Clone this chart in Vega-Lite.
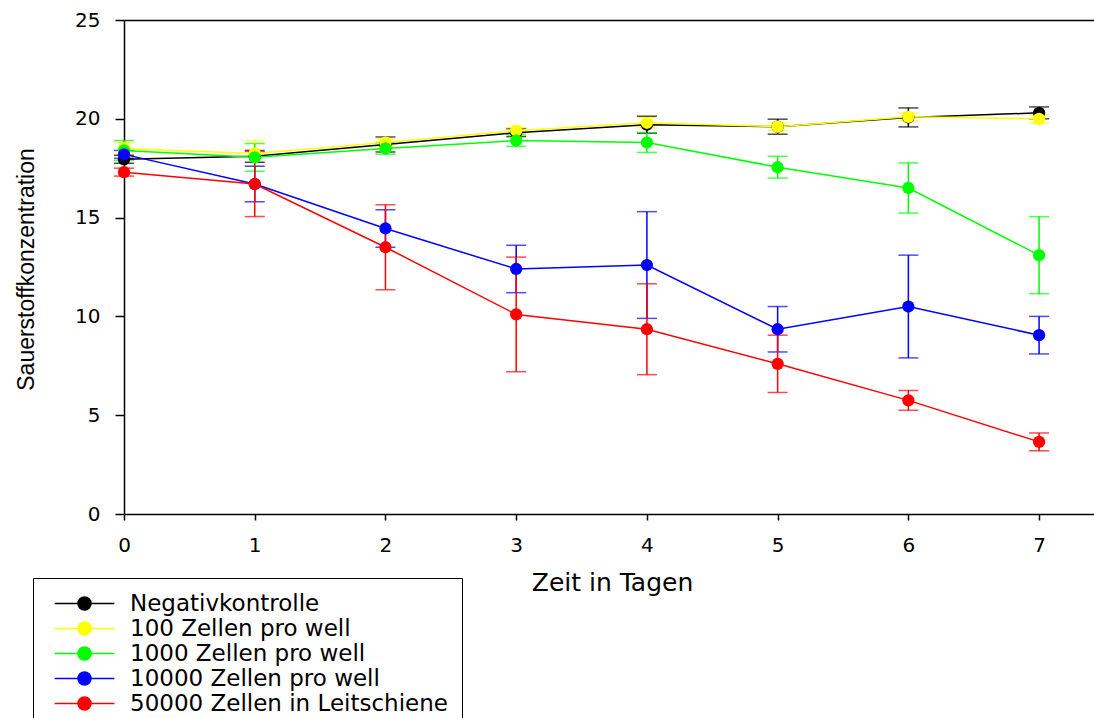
{
  "$schema": "https://vega.github.io/schema/vega-lite/v6.json",
  "width": 970,
  "height": 494,
  "autosize": {"type": "none"},
  "padding": {"left": 124, "top": 20, "right": 0, "bottom": 204},
  "background": "white",
  "config": {
    "view": {"stroke": null},
    "axis": {
      "domainColor": "black",
      "domainWidth": 1.5,
      "tickColor": "black",
      "tickWidth": 1.5,
      "labelColor": "black",
      "titleColor": "black",
      "labelFont": "DejaVu Sans",
      "labelFontSize": 20,
      "labelFontWeight": "normal"
    }
  },
  "data": {
    "values": [
      {"series": "Negativkontrolle", "day": 0, "value": 17.95, "sd": 0.2},
      {"series": "Negativkontrolle", "day": 1, "value": 18.1, "sd": 0.3},
      {"series": "Negativkontrolle", "day": 2, "value": 18.7, "sd": 0.38},
      {"series": "Negativkontrolle", "day": 3, "value": 19.3, "sd": 0.2},
      {"series": "Negativkontrolle", "day": 4, "value": 19.7, "sd": 0.43},
      {"series": "Negativkontrolle", "day": 5, "value": 19.6, "sd": 0.38},
      {"series": "Negativkontrolle", "day": 6, "value": 20.07, "sd": 0.48},
      {"series": "Negativkontrolle", "day": 7, "value": 20.3, "sd": 0.3},
      {"series": "100 Zellen pro well", "day": 0, "value": 18.5, "sd": 0.3},
      {"series": "100 Zellen pro well", "day": 1, "value": 18.25, "sd": 0.65},
      {"series": "100 Zellen pro well", "day": 2, "value": 18.8, "sd": 0.2},
      {"series": "100 Zellen pro well", "day": 3, "value": 19.4, "sd": 0.15},
      {"series": "100 Zellen pro well", "day": 4, "value": 19.8, "sd": 0.25},
      {"series": "100 Zellen pro well", "day": 5, "value": 19.6, "sd": 0.2},
      {"series": "100 Zellen pro well", "day": 6, "value": 20.1, "sd": 0.2},
      {"series": "100 Zellen pro well", "day": 7, "value": 20.0, "sd": 0.2},
      {"series": "1000 Zellen pro well", "day": 0, "value": 18.4, "sd": 0.5},
      {"series": "1000 Zellen pro well", "day": 1, "value": 18.05, "sd": 0.7},
      {"series": "1000 Zellen pro well", "day": 2, "value": 18.5, "sd": 0.3},
      {"series": "1000 Zellen pro well", "day": 3, "value": 18.9, "sd": 0.3},
      {"series": "1000 Zellen pro well", "day": 4, "value": 18.8, "sd": 0.5},
      {"series": "1000 Zellen pro well", "day": 5, "value": 17.55, "sd": 0.55},
      {"series": "1000 Zellen pro well", "day": 6, "value": 16.5, "sd": 1.27},
      {"series": "1000 Zellen pro well", "day": 7, "value": 13.1, "sd": 1.95},
      {"series": "10000 Zellen pro well", "day": 0, "value": 18.2, "sd": 0.2},
      {"series": "10000 Zellen pro well", "day": 1, "value": 16.7, "sd": 0.9},
      {"series": "10000 Zellen pro well", "day": 2, "value": 14.45, "sd": 0.95},
      {"series": "10000 Zellen pro well", "day": 3, "value": 12.4, "sd": 1.2},
      {"series": "10000 Zellen pro well", "day": 4, "value": 12.6, "sd": 2.7},
      {"series": "10000 Zellen pro well", "day": 5, "value": 9.35, "sd": 1.15},
      {"series": "10000 Zellen pro well", "day": 6, "value": 10.5, "sd": 2.6},
      {"series": "10000 Zellen pro well", "day": 7, "value": 9.05, "sd": 0.95},
      {"series": "50000 Zellen in Leitschiene", "day": 0, "value": 17.3, "sd": 0.2},
      {"series": "50000 Zellen in Leitschiene", "day": 1, "value": 16.7, "sd": 1.65},
      {"series": "50000 Zellen in Leitschiene", "day": 2, "value": 13.5, "sd": 2.15},
      {"series": "50000 Zellen in Leitschiene", "day": 3, "value": 10.1, "sd": 2.9},
      {"series": "50000 Zellen in Leitschiene", "day": 4, "value": 9.35, "sd": 2.3},
      {"series": "50000 Zellen in Leitschiene", "day": 5, "value": 7.6, "sd": 1.45},
      {"series": "50000 Zellen in Leitschiene", "day": 6, "value": 5.75, "sd": 0.5},
      {"series": "50000 Zellen in Leitschiene", "day": 7, "value": 3.65, "sd": 0.45}
    ]
  },
  "encoding": {
    "x": {
      "field": "day",
      "type": "quantitative",
      "scale": {"domain": [0, 7.42], "nice": false, "zero": false},
      "axis": {
        "title": "Zeit in Tagen",
        "titleFont": "DejaVu Sans",
        "titleFontSize": 25,
        "titleFontWeight": "normal",
        "titleX": 488,
        "titleY": 68,
        "titleBaseline": "middle",
        "titleAlign": "center",
        "values": [0, 1, 2, 3, 4, 5, 6, 7],
        "format": "d",
        "tickSize": 6,
        "labelBaseline": "middle",
        "labelPadding": 25,
        "labelFlush": false,
        "grid": false
      }
    },
    "y": {
      "field": "value",
      "type": "quantitative",
      "scale": {"domain": [0, 25], "nice": false},
      "axis": {
        "title": "Sauerstoffkonzentration",
        "titleFont": "Liberation Sans",
        "titleFontSize": 23,
        "titleFontWeight": "normal",
        "titleX": -98,
        "titleY": 249,
        "titleBaseline": "middle",
        "titleAlign": "center",
        "titleAngle": -90,
        "values": [0, 5, 10, 15, 20, 25],
        "tickSize": 9,
        "labelPadding": 15,
        "labelFlush": false,
        "grid": true,
        "gridColor": {"condition": {"test": "datum.value == 25", "value": "black"}, "value": null},
        "gridWidth": 1.5
      }
    },
    "color": {
      "field": "series",
      "type": "nominal",
      "sort": ["Negativkontrolle", "100 Zellen pro well", "1000 Zellen pro well", "10000 Zellen pro well", "50000 Zellen in Leitschiene"],
      "scale": {
        "domain": ["Negativkontrolle", "100 Zellen pro well", "1000 Zellen pro well", "10000 Zellen pro well", "50000 Zellen in Leitschiene"],
        "range": ["#000000", "#ffff00", "#00ff00", "#0000ff", "#ff0000"]
      },
      "legend": {
        "orient": "none",
        "legendX": -91,
        "legendY": 558,
        "title": null,
        "symbolType": "M-4.6,0L4.6,0M-1,0A1,1,0,1,0,1,0A1,1,0,1,0,-1,0Z",
        "symbolSize": 169,
        "symbolStrokeWidth": 1.5,
        "symbolOffset": 26,
        "labelFont": "DejaVu Sans",
        "labelFontSize": 23,
        "labelColor": "black",
        "labelLimit": 0,
        "labelOffset": 34,
        "fillColor": "white",
        "strokeColor": "black",
        "padding": 14,
        "rowPadding": 1,
        "encode": {
          "symbols": {
            "update": {
              "fill": {"scale": "color", "field": "value"},
              "stroke": {"scale": "color", "field": "value"},
              "opacity": {"value": 1}
            }
          }
        }
      }
    }
  },
  "layer": [
    {
      "mark": {"type": "errorbar", "ticks": true, "size": 20, "thickness": 1.5},
      "encoding": {"yError": {"field": "sd"}}
    },
    {
      "mark": {"type": "line", "strokeWidth": 1.5}
    },
    {
      "mark": {"type": "point", "filled": true, "size": 150, "opacity": 1}
    }
  ]
}
